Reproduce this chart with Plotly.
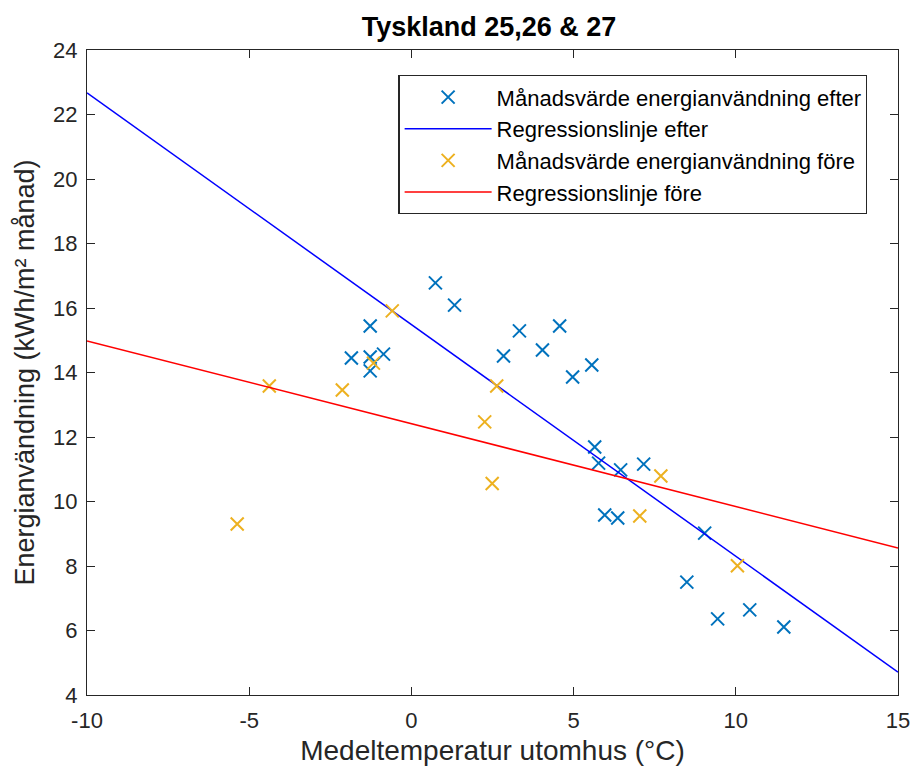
import plotly.graph_objects as go

# Data
after_temp = [-1.85, -1.27, -1.27, -1.27, -0.86, 0.74, 1.33, 2.84, 3.33, 4.04, 4.57, 4.97,
              5.56, 5.65, 5.77, 6.45, 7.16, 5.96, 6.36, 9.04, 8.49, 9.44, 10.43, 11.48]
after_energy = [14.45, 15.44, 14.48, 14.05, 14.57, 16.78, 16.09, 14.51, 15.29, 14.70, 15.44, 13.86,
                14.23, 11.69, 11.19, 10.98, 11.16, 9.58, 9.49, 9.02, 7.50, 6.36, 6.64, 6.11]

before_temp = [-5.37, -4.38, -2.13, -1.17, -0.59, 2.26, 2.49, 2.63, 7.04, 7.69, 10.05]
before_energy = [9.30, 13.58, 13.46, 14.29, 15.91, 12.47, 10.56, 13.58, 9.55, 10.79, 8.01]

reg_x = [-10, 15]
reg_after = [22.67, 4.71]
reg_before = [14.98, 8.56]

x_ticks = [-10, -5, 0, 5, 10, 15]
y_ticks = [4, 6, 8, 10, 12, 14, 16, 18, 20, 22, 24]

FONT = "Liberation Sans, Arial, sans-serif"
AX = "#262626"

fig = go.Figure()
fig.add_trace(go.Scatter(x=after_temp, y=after_energy, mode="markers",
                         name="Månadsvärde energianvändning efter",
                         marker=dict(symbol="x-thin", size=13, color="#0072BD",
                                     line=dict(width=2, color="#0072BD"))))
fig.add_trace(go.Scatter(x=reg_x, y=reg_after, mode="lines",
                         name="Regressionslinje efter",
                         line=dict(color="#0000FF", width=1.5)))
fig.add_trace(go.Scatter(x=before_temp, y=before_energy, mode="markers",
                         name="Månadsvärde energianvändning före",
                         marker=dict(symbol="x-thin", size=13, color="#EDB120",
                                     line=dict(width=2, color="#EDB120"))))
fig.add_trace(go.Scatter(x=reg_x, y=reg_before, mode="lines",
                         name="Regressionslinje före",
                         line=dict(color="#FF0000", width=1.5)))

axis_common = dict(showgrid=False, zeroline=False, showline=True, mirror="ticks",
                   linecolor=AX, linewidth=1.2, ticks="inside", ticklen=8,
                   tickcolor=AX, tickwidth=1.2, automargin=False,
                   tickfont=dict(family=FONT, size=22, color=AX))

fig.update_layout(
    width=913, height=767,
    margin=dict(l=87, r=15, t=50, b=72),
    paper_bgcolor="white", plot_bgcolor="white",
    font=dict(family=FONT, color=AX),
    title=dict(text="<b>Tyskland 25,26 & 27</b>", x=489 / 913, xanchor="center",
               y=1 - 27 / 767, yanchor="middle", yref="container",
               font=dict(family=FONT, size=27, color="#000000")),
    xaxis=dict(range=[-10, 15], tickvals=x_ticks, ticktext=[str(v) for v in x_ticks],
               ticklabelstandoff=5,
               title=dict(text="Medeltemperatur utomhus (°C)",
                          font=dict(family=FONT, size=28, color=AX), standoff=8),
               **axis_common),
    yaxis=dict(range=[4, 24], tickvals=y_ticks, ticktext=[str(v) for v in y_ticks],
               ticklabelstandoff=4,
               title=dict(text="Energianvändning (kWh/m² månad)",
                          font=dict(family=FONT, size=27, color=AX), standoff=10),
               **axis_common),
    legend=dict(x=0.384, y=0.961, xanchor="left", yanchor="top",
                bgcolor="white", bordercolor=AX, borderwidth=1.2,
                font=dict(family=FONT, size=22, color="#000000"),
                tracegroupgap=0, itemwidth=87),
    showlegend=True,
)

fig.write_html("out.html")
